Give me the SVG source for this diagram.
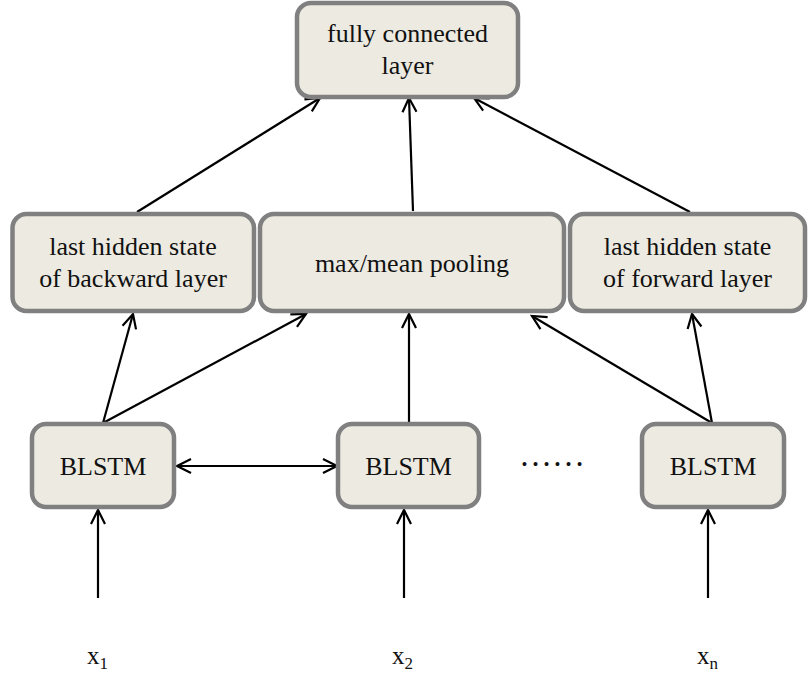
<svg xmlns="http://www.w3.org/2000/svg" width="809" height="676" viewBox="0 0 809 676">
<defs>
<style>
.box{fill:#ECEAE1;stroke:#808080;stroke-width:4.5}
.t{font-family:'Liberation Serif','DejaVu Serif','Noto Serif',serif;font-size:26px;fill:#111;text-anchor:middle}
.xl{font-family:'Liberation Serif','DejaVu Serif','Noto Serif',serif;font-size:25px;fill:#111}
.c{stroke:#000;stroke-width:2.2;fill:none}
</style>
<marker id="ah" markerUnits="userSpaceOnUse" markerWidth="20" markerHeight="20" viewBox="0 0 20 20" refX="17" refY="10" orient="auto-start-reverse">
<path d="M3,3 L17,10 L3,17" fill="none" stroke="#000" stroke-width="2.2"/>
</marker>
</defs>
<rect width="809" height="676" fill="#fff"/>
<g id="connectors">
<line class="c" x1="137" y1="212" x2="320" y2="98" marker-end="url(#ah)"/>
<line class="c" x1="413" y1="211" x2="409" y2="98" marker-end="url(#ah)"/>
<line class="c" x1="690" y1="212" x2="474" y2="98" marker-end="url(#ah)"/>
<line class="c" x1="103" y1="423" x2="133" y2="314" marker-end="url(#ah)"/>
<line class="c" x1="103" y1="423" x2="306" y2="314" marker-end="url(#ah)"/>
<line class="c" x1="409" y1="423" x2="409" y2="314" marker-end="url(#ah)"/>
<line class="c" x1="712" y1="423" x2="532" y2="316" marker-end="url(#ah)"/>
<line class="c" x1="712" y1="423" x2="692" y2="314" marker-end="url(#ah)"/>
<line class="c" x1="177" y1="466" x2="337" y2="466" marker-start="url(#ah)" marker-end="url(#ah)"/>
<line class="c" x1="98" y1="598" x2="98" y2="510" marker-end="url(#ah)"/>
<line class="c" x1="404" y1="598" x2="404" y2="510" marker-end="url(#ah)"/>
<line class="c" x1="708" y1="598" x2="708" y2="510" marker-end="url(#ah)"/>
</g>
<g id="fc">
<rect class="box" x="297" y="3" width="221" height="94" rx="14"/>
<text class="t" x="407.5" y="42">fully connected</text>
<text class="t" x="407.5" y="74">layer</text>
</g>
<g id="lastBackward">
<rect class="box" x="12.5" y="214" width="241.5" height="97" rx="14"/>
<text class="t" x="133" y="255">last hidden state</text>
<text class="t" x="133" y="287">of backward layer</text>
</g>
<g id="pooling">
<rect class="box" x="260" y="214" width="304" height="97" rx="14"/>
<text class="t" x="412" y="272">max/mean pooling</text>
</g>
<g id="lastForward">
<rect class="box" x="570" y="214" width="235" height="97" rx="14"/>
<text class="t" x="687.5" y="255">last hidden state</text>
<text class="t" x="687.5" y="287">of forward layer</text>
</g>
<g id="blstm1">
<rect class="box" x="32" y="424" width="142" height="83" rx="14"/>
<text class="t" x="103" y="475">BLSTM</text>
</g>
<g id="blstm2">
<rect class="box" x="338" y="424" width="141" height="83" rx="14"/>
<text class="t" x="408.5" y="475">BLSTM</text>
</g>
<g id="dots">
<text class="t" x="552" y="466" style="font-size:33px">……</text>
</g>
<g id="blstm3">
<rect class="box" x="642" y="424" width="142" height="83" rx="14"/>
<text class="t" x="713" y="475">BLSTM</text>
</g>
<g id="inputs">
<text class="xl" x="87" y="664">x<tspan font-size="17" dy="5">1</tspan></text>
<text class="xl" x="392" y="664">x<tspan font-size="17" dy="5">2</tspan></text>
<text class="xl" x="697" y="664">x<tspan font-size="17" dy="5">n</tspan></text>
</g>
</svg>
